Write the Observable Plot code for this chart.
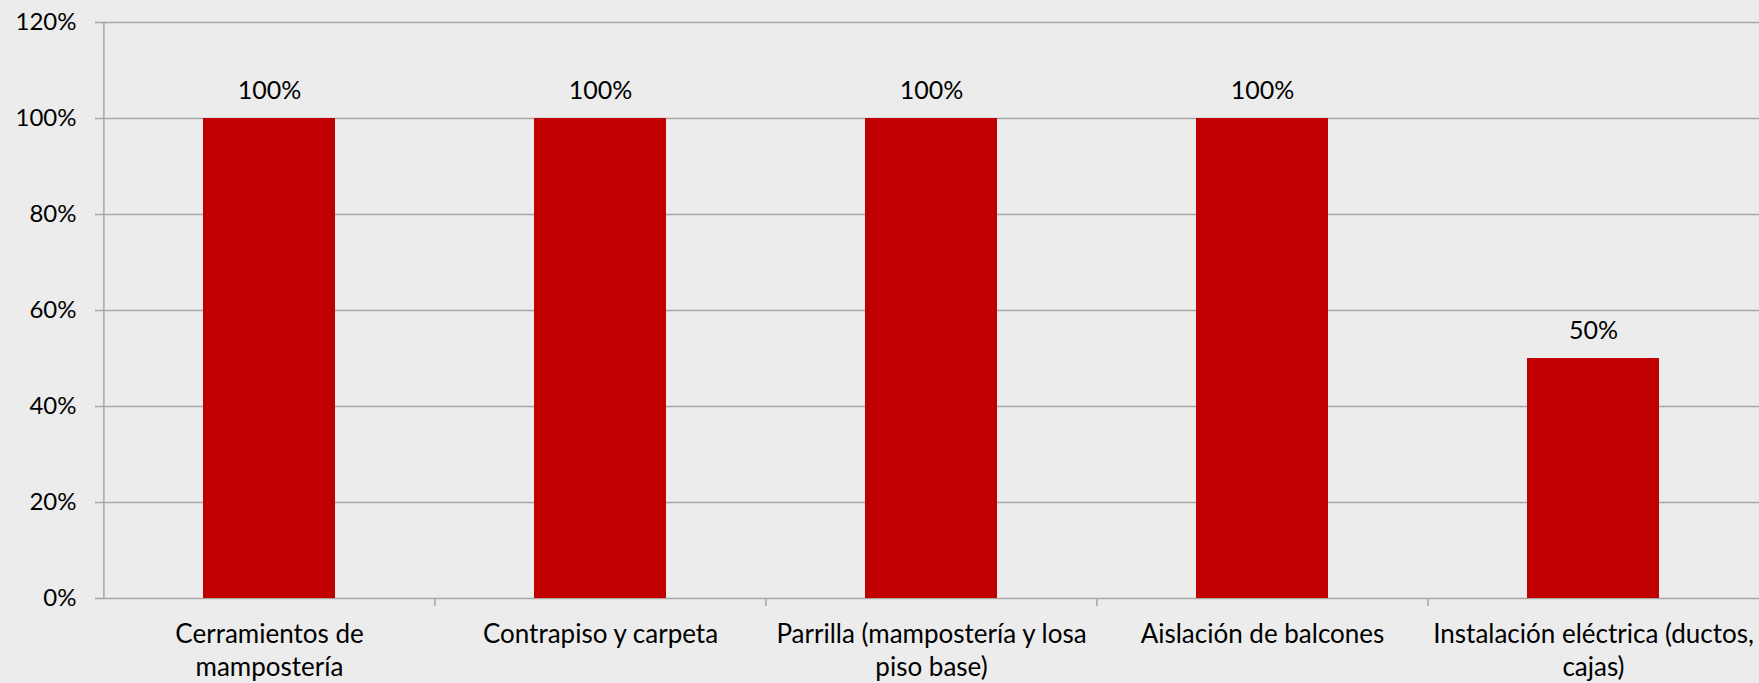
<!DOCTYPE html>
<html>
<head>
<meta charset="utf-8">
<script src="https://cdn.jsdelivr.net/npm/d3@7"></script>
<script src="https://cdn.jsdelivr.net/npm/@observablehq/plot@0.6"></script>
<style>
  html, body { margin: 0; padding: 0; background: #ececec; }
  #chart svg { display: block; }
</style>
</head>
<body>
<div id="chart"></div>
<script>
const categories = [
  "Cerramientos de mampostería",
  "Contrapiso y carpeta",
  "Parrilla (mampostería y losa piso base)",
  "Aislación de balcones",
  "Instalación eléctrica (ductos, cajas)"
];
const tickLabels = [
  "Cerramientos de\nmampostería",
  "Contrapiso y carpeta",
  "Parrilla (mampostería y losa\npiso base)",
  "Aislación de balcones",
  "Instalación eléctrica (ductos,\ncajas)"
];
const values = [1.00, 1.00, 1.00, 1.00, 0.50];
const yTicks = [0, 0.2, 0.4, 0.6, 0.8, 1.0, 1.2];

const data = categories.map((c, i) => ({category: c, value: values[i], label: tickLabels[i]}));

const W = 1759, H = 683;
const mL = 103, mR = 0, mT = 22, mB = 85;
const plotH = H - mT - mB;
const step = (W - mL - mR) / categories.length;
const fmt = d3.format(".0%");
const grid = "#a6a6a6";

const chart = Plot.plot({
  width: W,
  height: H,
  marginLeft: mL,
  marginRight: mR,
  marginTop: mT,
  marginBottom: mB,
  style: {background: "#ececec", fontFamily: "Lato, 'Open Sans', sans-serif", fontSize: "24px", color: "#000"},
  x: {domain: categories, paddingInner: 0.6, paddingOuter: 0.3, label: null},
  y: {domain: [0, 1.2], label: null},
  marks: [
    Plot.ruleY(yTicks, {y: d => d, stroke: grid, strokeWidth: 1.5, insetLeft: -8, strokeOpacity: 1}),
    Plot.tickX([categories[0]], {x: d => d, dx: -step / 2, stroke: grid, strokeWidth: 1.5, strokeOpacity: 1}),
    Plot.barY(data, {x: "category", y: "value", fill: "#c00000"}),
    Plot.text(data, {x: "category", y: "value", text: d => fmt(d.value), dy: -20, lineAnchor: "bottom", fill: "#000", fontSize: 25}),
    Plot.tickX(categories.slice(1), {x: d => d, dx: -step / 2, dy: 8, insetTop: plotH - 8, stroke: grid, strokeWidth: 1.5, strokeOpacity: 1}),
    Plot.axisY({ticks: yTicks, tickFormat: fmt, tickSize: 0, tickPadding: 27, fontSize: 24, fill: "#000", label: null}),
    Plot.axisX({tickSize: 0, tickPadding: 20, tickFormat: d => tickLabels[categories.indexOf(d)], fontSize: 26, lineHeight: 1.3, fill: "#000", label: null})
  ]
});
document.getElementById("chart").appendChild(chart);
</script>
</body>
</html>
